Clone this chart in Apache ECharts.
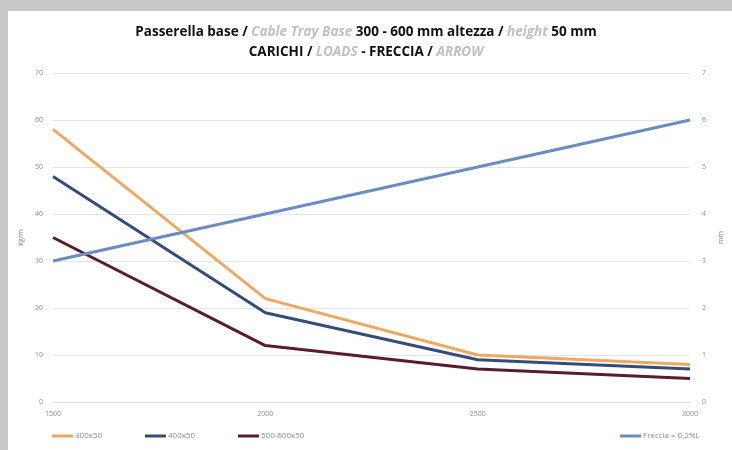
<!DOCTYPE html>
<html>
<head>
<meta charset="utf-8">
<script src="https://cdn.jsdelivr.net/npm/echarts@6/dist/echarts.min.js"></script>
<style>html,body{margin:0;padding:0;background:#fff}#c{width:732px;height:450px}</style>
</head>
<body>
<div id="c"></div>
<script>
const categories = ['1500', '2000', '2500', '3000'];
const s300 = [58, 22, 10, 8];
const s400 = [48, 19, 9, 7];
const s500600 = [35, 12, 7, 5];
const freccia = [3, 4, 5, 6];
const seriesNames = ['300x50', '400x50', '500-600x50', 'Freccia = 0,2%L'];

const chart = echarts.init(document.getElementById('c'));
const lab = { color: '#8a8a8a', fontSize: 7, fontFamily: 'Open Sans' };
const legLab = { color: '#8a8a8a', fontSize: 8, fontFamily: 'Open Sans' };
const legendLefts = [52, 145, 238, 620];
chart.setOption({
  backgroundColor: '#fff',
  animation: false,
  graphic: [
    { type: 'rect', shape: { x: 0, y: 0, width: 732, height: 11 }, style: { fill: '#c8c8c8' }, silent: true },
    { type: 'rect', shape: { x: 0, y: 0, width: 8, height: 450 }, style: { fill: '#c8c8c8' }, silent: true }
  ],
  title: {
    left: 'center', top: 17,
    text: '{b|Passerella base / }{g|Cable Tray Base }{b|300 - 600 mm altezza / }{g|height }{b|50 mm}\n{b|CARICHI / }{g|LOADS}{b| - FRECCIA / }{g|ARROW}',
    textStyle: {
      lineHeight: 20,
      rich: {
        b: { fontFamily: 'Open Sans', fontWeight: 'bold', fontSize: 13.5, color: '#111', lineHeight: 20 },
        g: { fontFamily: 'Open Sans', fontStyle: 'italic', fontSize: 13.5, color: '#c0c0c0', lineHeight: 20 }
      }
    }
  },
  legend: seriesNames.map((n, i) => ({
    data: [n], left: legendLefts[i], top: 432, itemWidth: 21, itemHeight: 3, itemGap: 0,
    icon: 'rect', textStyle: Object.assign({ padding: [0, 0, 0, -3] }, legLab), padding: 0
  })),
  grid: { left: 53, right: 39, top: 73, bottom: 48 },
  xAxis: {
    type: 'category', data: categories, boundaryGap: false,
    axisLine: { lineStyle: { color: '#e0e0e0' } },
    axisTick: { show: false },
    axisLabel: Object.assign({ margin: 8 }, lab)
  },
  yAxis: [
    { type: 'value', min: 0, max: 70, interval: 10, name: 'kg/m', nameLocation: 'middle', nameGap: 8, nameRotate: 90,
      nameTextStyle: lab, axisLabel: Object.assign({ margin: 10 }, lab),
      axisLine: { show: false }, axisTick: { show: false },
      splitLine: { lineStyle: { color: '#e4e4e4' } } },
    { type: 'value', min: 0, max: 7, interval: 1, name: 'mm', nameLocation: 'middle', nameGap: 16, nameRotate: 90,
      nameTextStyle: lab, axisLabel: Object.assign({ margin: 12 }, lab),
      axisLine: { show: false }, axisTick: { show: false }, splitLine: { show: false } }
  ],
  series: [
    { name: seriesNames[0], type: 'line', data: s300, yAxisIndex: 0, symbol: 'none', lineStyle: { width: 3, color: '#eea863' }, itemStyle: { color: '#eea863' } },
    { name: seriesNames[1], type: 'line', data: s400, yAxisIndex: 0, symbol: 'none', lineStyle: { width: 3, color: '#344d78' }, itemStyle: { color: '#344d78' } },
    { name: seriesNames[2], type: 'line', data: s500600, yAxisIndex: 0, symbol: 'none', lineStyle: { width: 3, color: '#5a1c2c' }, itemStyle: { color: '#5a1c2c' } },
    { name: seriesNames[3], type: 'line', data: freccia, yAxisIndex: 1, symbol: 'none', lineStyle: { width: 3, color: '#6a8bc4' }, itemStyle: { color: '#6a8bc4' } }
  ]
});
</script>
</body>
</html>
